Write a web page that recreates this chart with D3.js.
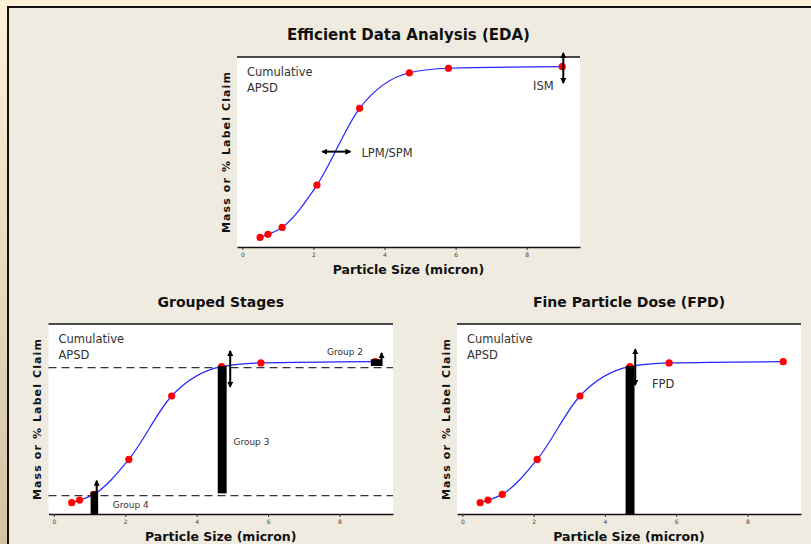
<!DOCTYPE html>
<html>
<head>
<meta charset="utf-8">
<script src="https://cdn.jsdelivr.net/npm/d3@7"></script>
<style>
  body { margin: 0; overflow: hidden; }
  text { font-family: "DejaVu Sans", Verdana, sans-serif; }
</style>
</head>
<body>
<svg id="chart"></svg>
<script>
// cumulative APSD, same curve in all three panels
var particleSize = [0.5, 0.72, 1.12, 2.1, 3.3, 4.7, 5.8, 9.0];
var cumulativePct = [1.5, 3.3, 7.3, 31.7, 76, 96.5, 99.1, 100];
var xTicks = [0, 2, 4, 6, 8];
var panelTitles = ["Efficient Data Analysis (EDA)", "Grouped Stages", "Fine Particle Dose (FPD)"];
var xLabel = "Particle Size (micron)";
var yLabel = "Mass or % Label Claim";

// grouped stages: boundary levels and the group bars (x0, x1, low, high)
var groupLevels = [6.4, 95.8];
var groupNames = ["Group 4", "Group 3", "Group 2"];
var groupBars = [[1.03, 1.24, null, 9.2], [4.59, 4.84, 8.0, 97], [8.88, 9.19, 97, 101.7]];
// fpd bar
var fpdBar = [4.58, 4.83, null, 97];

var screen = {width: 811, height: 544};

var svg = d3.select("#chart")
    .attr("width", screen.width)
    .attr("height", screen.height);

var defs = svg.append("defs");
var grad = defs.append("linearGradient")
    .attr("id", "bg").attr("x1", 0).attr("y1", 0).attr("x2", 0).attr("y2", 1);
grad.append("stop").attr("offset", "0%").attr("stop-color", "#fdf1da");
grad.append("stop").attr("offset", "100%").attr("stop-color", "#d4c3a0");

defs.append("marker")
    .attr("id", "head")
    .attr("viewBox", "0 0 6 6")
    .attr("refX", 5).attr("refY", 3)
    .attr("markerWidth", 6).attr("markerHeight", 6)
    .attr("markerUnits", "userSpaceOnUse")
    .attr("orient", "auto-start-reverse")
    .append("path").attr("d", "M0,0L6,3L0,6Z").attr("fill", "#000");

svg.append("rect").attr("width", screen.width).attr("height", screen.height).attr("fill", "url(#bg)");
svg.append("rect")
    .attr("x", 8).attr("y", 7)
    .attr("width", screen.width).attr("height", screen.height)
    .attr("fill", "#efebe1")
    .attr("stroke", "#111").attr("stroke-width", 2);

var panels = [
    {left: 237, top: 57, width: 343, height: 190, yDomain: [-4, 105.6], title: panelTitles[0], tsize: 15},
    {left: 48.5, top: 324, width: 344.5, height: 190, yDomain: [-6.4, 126.3], title: panelTitles[1], tsize: 14},
    {left: 457, top: 324, width: 344, height: 190, yDomain: [-6.4, 126.3], title: panelTitles[2], tsize: 14}
];

var arrow = function(g, x1, y1, x2, y2, both)
{
    var l = g.append("line")
        .attr("x1", x1).attr("y1", y1).attr("x2", x2).attr("y2", y2)
        .attr("stroke", "#000").attr("stroke-width", 2)
        .attr("marker-end", "url(#head)");
    if (both) l.attr("marker-start", "url(#head)");
}

var note = function(g, x, y, txt, size)
{
    g.append("text").attr("x", x).attr("y", y)
        .attr("font-size", size).attr("fill", "#333").text(txt);
}

var drawPanel = function(p)
{
    var g = svg.append("g").attr("transform", "translate(" + p.left + "," + p.top + ")");

    var xScale = d3.scaleLinear().domain([-0.15, 9.5]).range([0, p.width]);
    var yScale = d3.scaleLinear().domain(p.yDomain).range([p.height, 0]);

    g.append("rect").attr("width", p.width).attr("height", p.height).attr("fill", "#fff");
    g.append("line").attr("x1", 0).attr("x2", p.width)
        .attr("stroke", "#111").attr("stroke-width", 1.5);

    var xAxis = d3.axisBottom(xScale).tickValues(xTicks).tickSize(3).tickSizeOuter(0).tickPadding(3);
    var ax = g.append("g").attr("transform", "translate(0," + p.height + ")").call(xAxis);
    ax.select(".domain").attr("stroke", "#111").attr("stroke-width", 1.5);
    ax.selectAll(".tick line").attr("stroke", "#333");
    ax.selectAll("text").attr("font-size", 6).attr("fill", "#444")
        .attr("font-family", "DejaVu Sans");

    g.append("text").attr("x", p.width / 2).attr("y", -17)
        .attr("text-anchor", "middle").attr("font-size", p.tsize).attr("font-weight", "bold")
        .attr("fill", "#111").text(p.title);
    g.append("text").attr("x", p.width / 2).attr("y", p.height + 26.5)
        .attr("text-anchor", "middle").attr("font-size", 12.5).attr("font-weight", "bold")
        .attr("fill", "#111").text(xLabel);
    g.append("text")
        .attr("transform", "translate(-11," + (p.height / 2) + ") rotate(-90)")
        .attr("text-anchor", "middle").attr("dominant-baseline", "central")
        .attr("font-size", 11).attr("font-weight", "bold").attr("letter-spacing", 1.1)
        .attr("fill", "#111").text(yLabel);

    note(g, 10, 18.5, "Cumulative", 11.5);
    note(g, 10, 35, "APSD", 11.5);

    return {g: g, x: xScale, y: yScale};
}

var drawCurve = function(c)
{
    var pts = particleSize.map(function(d, i) { return [d, cumulativePct[i]]; });
    var line = d3.line()
        .x(function(d) { return c.x(d[0]); })
        .y(function(d) { return c.y(d[1]); })
        .curve(d3.curveMonotoneX);
    c.g.append("path").datum(pts).attr("d", line)
        .attr("fill", "none").attr("stroke", "#2424ff").attr("stroke-width", 1.2);
    c.g.selectAll("circle").data(pts).enter().append("circle")
        .attr("cx", function(d) { return c.x(d[0]); })
        .attr("cy", function(d) { return c.y(d[1]); })
        .attr("r", 3.6).attr("fill", "#ff0000");
}

var drawBar = function(c, b)
{
    var lo = b[2] === null ? c.y.domain()[0] : b[2];
    c.g.append("rect")
        .attr("x", c.x(b[0])).attr("width", c.x(b[1]) - c.x(b[0]))
        .attr("y", c.y(b[3])).attr("height", c.y(lo) - c.y(b[3]))
        .attr("fill", "#000");
}

// EDA panel
var eda = drawPanel(panels[0]);
drawCurve(eda);
arrow(eda.g, eda.x(2.25), eda.y(51), eda.x(3.04), eda.y(51), true);
note(eda.g, eda.x(3.35), eda.y(51) + 5, "LPM/SPM", 11.5);
arrow(eda.g, eda.x(9.03), eda.y(107.9), eda.x(9.03), eda.y(90.6), true);
note(eda.g, eda.x(8.18), eda.y(86.5), "ISM", 11.5);

// grouped stages panel
var grp = drawPanel(panels[1]);
grp.g.selectAll(".level").data(groupLevels).enter().append("line")
    .attr("x1", 0).attr("x2", grp.x.range()[1])
    .attr("y1", function(d) { return grp.y(d); }).attr("y2", function(d) { return grp.y(d); })
    .attr("stroke", "#333").attr("stroke-width", 1.3).attr("stroke-dasharray", "8,5");
drawCurve(grp);
groupBars.forEach(function(b) { drawBar(grp, b); });
arrow(grp.g, grp.x(1.2), grp.y(8.9), grp.x(1.2), grp.y(16.8), false);
arrow(grp.g, grp.x(4.94), grp.y(107.5), grp.x(4.94), grp.y(82.5), true);
arrow(grp.g, grp.x(9.18), grp.y(97), grp.x(9.18), grp.y(106), false);
note(grp.g, grp.x(1.65), grp.y(-2.4), groupNames[0], 9);
note(grp.g, grp.x(5.03), grp.y(41.8), groupNames[1], 9);
note(grp.g, grp.x(7.65), grp.y(104.7), groupNames[2], 9);

// fpd panel
var fpd = drawPanel(panels[2]);
drawCurve(fpd);
drawBar(fpd, fpdBar);
arrow(fpd.g, fpd.x(4.85), fpd.y(108.7), fpd.x(4.85), fpd.y(83.7), true);
note(fpd.g, fpd.x(5.32), fpd.y(81.8), "FPD", 11.5);
</script>
</body>
</html>
